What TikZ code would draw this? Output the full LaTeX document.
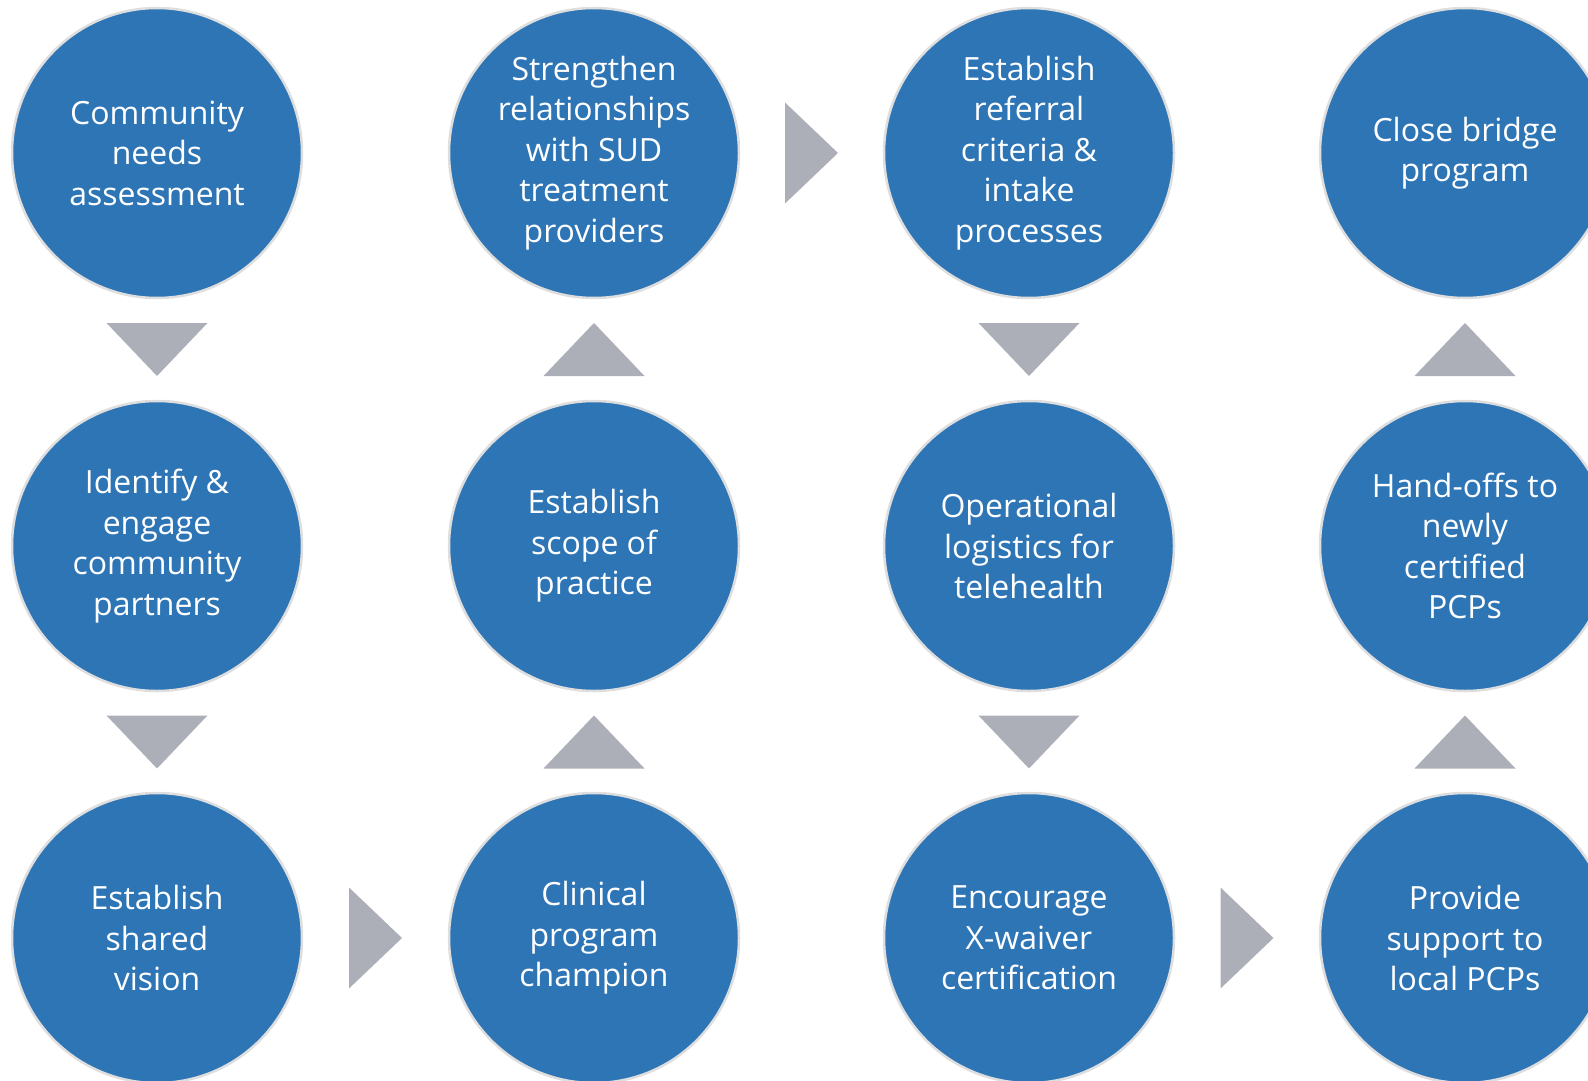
\documentclass[tikz,border=0pt]{standalone}
\usepackage{fontspec}
\setmainfont{Open Sans}
\usetikzlibrary{calc}
\definecolor{stepblue}{HTML}{2E75B6}
\definecolor{arrowgray}{HTML}{ADAFB8}
\definecolor{ringgray}{HTML}{DEDEDE}
\newcommand\tridown[2]{\fill[arrowtri] ($(#1)!0.5!(#2)$) ++(-50.5,-26.5) -- ++(101,0) -- ++(-50.5,53) -- cycle;}
\newcommand\triup[2]{\fill[arrowtri] ($(#1)!0.5!(#2)$) ++(-50.5,26.5) -- ++(101,0) -- ++(-50.5,-53) -- cycle;}
\newcommand\triright[2]{\fill[arrowtri] ($(#1)!0.5!(#2)$) ++(-26.5,-50.5) -- ++(0,101) -- ++(53,-50.5) -- cycle;}
\begin{document}
\begin{tikzpicture}[x=1pt,y=-1pt,
  stepnode/.style={circle, fill=stepblue, draw=ringgray, line width=2.5pt,
    minimum size=290pt, inner sep=0pt, text=white, align=center,
    font=\fontsize{32}{40.5}\selectfont},
  arrowtri/.style={fill=arrowgray}]
\useasboundingbox (0,0) rectangle (1588,1081);
\clip (0,0) rectangle (1588,1081);
% column 1
\node[stepnode] (n1) at (157,153) {Community\\needs\\assessment};
\node[stepnode] (n2) at (157,546) {Identify \&\\engage\\community\\partners};
\node[stepnode] (n3) at (157,938) {Establish\\shared\\vision};
% column 2
\node[stepnode] (n4) at (594,938) {Clinical\\program\\champion};
\node[stepnode] (n5) at (594,546) {Establish\\scope of\\practice};
\node[stepnode] (n6) at (594,153) {Strengthen\\relationships\\with SUD\\treatment\\providers};
% column 3
\node[stepnode] (n7) at (1029,153) {Establish\\referral\\criteria \&\\intake\\processes};
\node[stepnode] (n8) at (1029,546) {Operational\\logistics for\\telehealth};
\node[stepnode] (n9) at (1029,938) {Encourage\\X-waiver\\certification};
% column 4
\node[stepnode] (n10) at (1465,938) {Provide\\support to\\local PCPs};
\node[stepnode] (n11) at (1465,546) {Hand-offs to\\newly\\certified\\PCPs};
\node[stepnode] (n12) at (1465,153) {Close bridge\\program};
% arrows
\tridown{n1}{n2}
\tridown{n2}{n3}
\triright{n3}{n4}
\triup{n4}{n5}
\triup{n5}{n6}
\triright{n6}{n7}
\tridown{n7}{n8}
\tridown{n8}{n9}
\triright{n9}{n10}
\triup{n10}{n11}
\triup{n11}{n12}
\end{tikzpicture}
\end{document}
